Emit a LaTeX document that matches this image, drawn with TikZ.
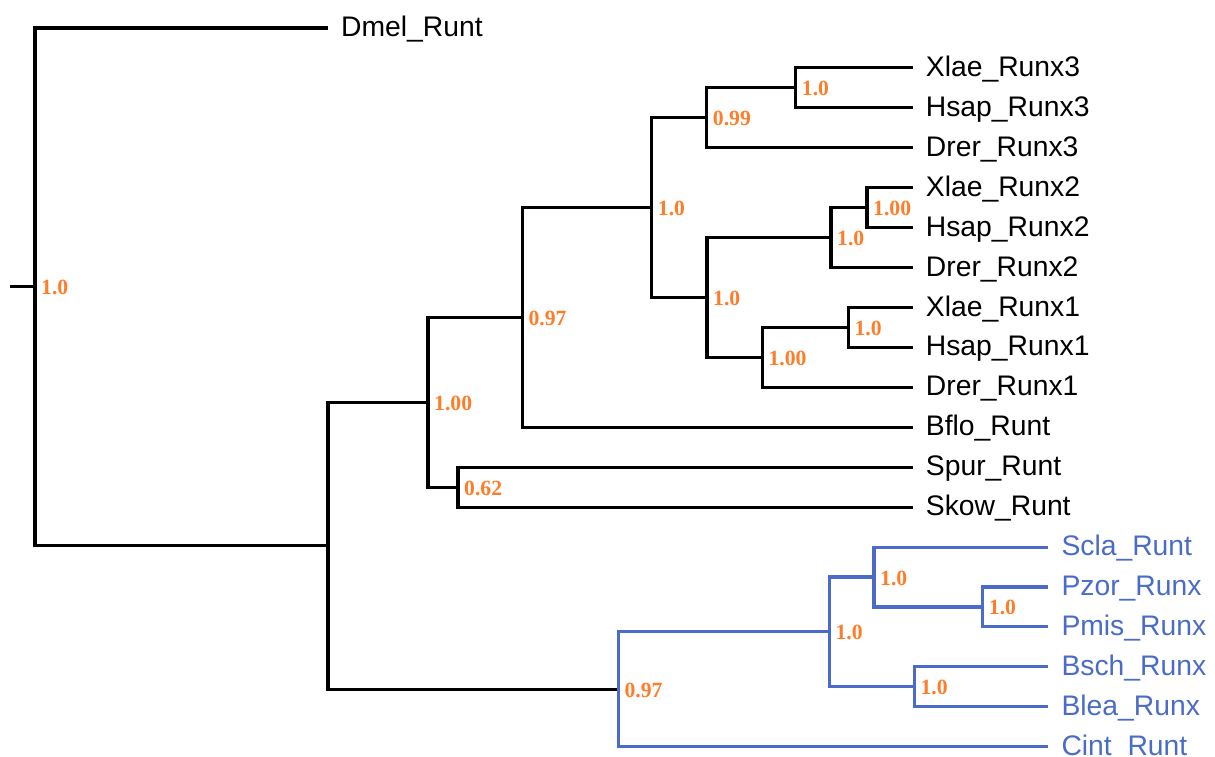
\documentclass[tikz,border=0pt]{standalone}
\usepackage{fontspec}
\setmainfont{Liberation Sans}
\newfontfamily\supserif{Liberation Serif}
\definecolor{orangec}{RGB}{255,125,40}
\definecolor{bluec}{RGB}{74,108,200}
\newcommand{\leaffont}{\fontsize{28.3}{34}\selectfont}
\newcommand{\supfnt}{\supserif\bfseries\fontsize{21.7}{26}\selectfont}
\tikzset{
  br/.style={line width=3.1pt, line join=miter, draw=black},
  bl/.style={br, draw=bluec},
  leaf/.style={anchor=base west, inner sep=0pt, font=\leaffont, xshift=13pt, yshift=-8.5pt},
  leafb/.style={leaf, text=bluec},
  sup/.style={anchor=base west, inner sep=0pt, font=\supfnt, text=orangec, xshift=6pt, yshift=-8pt}
}
\begin{document}
\begin{tikzpicture}[x=1pt,y=-1pt]
\useasboundingbox (0,0) rectangle (1215,756);
% internal nodes
\coordinate (S) at (10,286.9);
\coordinate (R) at (35,286.9);
\coordinate (A) at (328,545.8);
\coordinate (B) at (428,402.35);
\coordinate (D) at (522.3,317.5);
\coordinate (F) at (651.7,207.7);
\coordinate (G) at (706.7,117.85);
\coordinate (I) at (795.7,87.9);
\coordinate (H) at (707,297.5);
\coordinate (J) at (831,237.65);
\coordinate (L) at (867,207.7);
\coordinate (K) at (762.3,357.4);
\coordinate (M) at (848.3,327.45);
\coordinate (E) at (458,487.2);
\coordinate (C) at (618.3,689.3);
\coordinate (N) at (829.3,631.9);
\coordinate (O) at (874,577.0);
\coordinate (Pn) at (982.7,606.95);
\coordinate (Q) at (914.3,686.85);
% leaf ends
\coordinate (l0) at (328,28);
\coordinate (l1) at (912.7,67.9);
\coordinate (l2) at (912.7,107.9);
\coordinate (l3) at (912.7,147.8);
\coordinate (l4) at (912.7,187.7);
\coordinate (l5) at (912.7,227.7);
\coordinate (l6) at (912.7,267.6);
\coordinate (l7) at (912.7,307.5);
\coordinate (l8) at (912.7,347.4);
\coordinate (l9) at (912.7,387.4);
\coordinate (l10) at (912.7,427.3);
\coordinate (l11) at (912.7,467.2);
\coordinate (l12) at (912.7,507.2);
\coordinate (l13) at (1048.3,547.1);
\coordinate (l14) at (1048.3,587.0);
\coordinate (l15) at (1048.3,626.9);
\coordinate (l16) at (1048.3,666.9);
\coordinate (l17) at (1048.3,706.8);
\coordinate (l18) at (1048.3,746.7);
% black branches
\draw[br] (S) -- (R);
\draw[br] (R) |- (l0);
\draw[br] (R) |- (A);
\draw[br] (A) |- (B);
\draw[br] (A) |- (C);
\draw[br] (B) |- (D);
\draw[br] (B) |- (E);
\draw[br] (D) |- (F);
\draw[br] (D) |- (l10);
\draw[br] (F) |- (G);
\draw[br] (F) |- (H);
\draw[br] (G) |- (I);
\draw[br] (G) |- (l3);
\draw[br] (I) |- (l1);
\draw[br] (I) |- (l2);
\draw[br] (H) |- (J);
\draw[br] (H) |- (K);
\draw[br] (J) |- (L);
\draw[br] (J) |- (l6);
\draw[br] (L) |- (l4);
\draw[br] (L) |- (l5);
\draw[br] (K) |- (M);
\draw[br] (K) |- (l9);
\draw[br] (M) |- (l7);
\draw[br] (M) |- (l8);
\draw[br] (E) |- (l11);
\draw[br] (E) |- (l12);
% blue branches
\draw[bl] (C) |- (N);
\draw[bl] (C) |- (l18);
\draw[bl] (N) |- (O);
\draw[bl] (N) |- (Q);
\draw[bl] (O) |- (l13);
\draw[bl] (O) |- (Pn);
\draw[bl] (Pn) |- (l14);
\draw[bl] (Pn) |- (l15);
\draw[bl] (Q) |- (l16);
\draw[bl] (Q) |- (l17);
% leaf labels
\node[leaf] (t0) at (l0) {Dmel\_Runt};
\node[leaf] (t1) at (l1) {Xlae\_Runx3};
\node[leaf] (t2) at (l2) {Hsap\_Runx3};
\node[leaf] (t3) at (l3) {Drer\_Runx3};
\node[leaf] (t4) at (l4) {Xlae\_Runx2};
\node[leaf] (t5) at (l5) {Hsap\_Runx2};
\node[leaf] (t6) at (l6) {Drer\_Runx2};
\node[leaf] (t7) at (l7) {Xlae\_Runx1};
\node[leaf] (t8) at (l8) {Hsap\_Runx1};
\node[leaf] (t9) at (l9) {Drer\_Runx1};
\node[leaf] (t10) at (l10) {Bflo\_Runt};
\node[leaf] (t11) at (l11) {Spur\_Runt};
\node[leaf] (t12) at (l12) {Skow\_Runt};
\node[leafb] (t13) at (l13) {Scla\_Runt};
\node[leafb] (t14) at (l14) {Pzor\_Runx};
\node[leafb] (t15) at (l15) {Pmis\_Runx};
\node[leafb] (t16) at (l16) {Bsch\_Runx};
\node[leafb] (t17) at (l17) {Blea\_Runx};
\node[leafb] (t18) at (l18) {Cint\_Runt};
% support values
\node[sup] (sR) at (R) {1.0};
\node[sup] (sB) at (B) {1.00};
\node[sup] (sD) at (D) {0.97};
\node[sup] (sF) at (F) {1.0};
\node[sup] (sG) at (G) {0.99};
\node[sup] (sI) at (I) {1.0};
\node[sup] (sH) at (H) {1.0};
\node[sup] (sJ) at (J) {1.0};
\node[sup] (sL) at (L) {1.00};
\node[sup] (sK) at (K) {1.00};
\node[sup] (sM) at (M) {1.0};
\node[sup] (sE) at (E) {0.62};
\node[sup] (sC) at (C) {0.97};
\node[sup] (sN) at (N) {1.0};
\node[sup] (sO) at (O) {1.0};
\node[sup] (sP) at (Pn) {1.0};
\node[sup] (sQ) at (Q) {1.0};
\end{tikzpicture}
\end{document}
